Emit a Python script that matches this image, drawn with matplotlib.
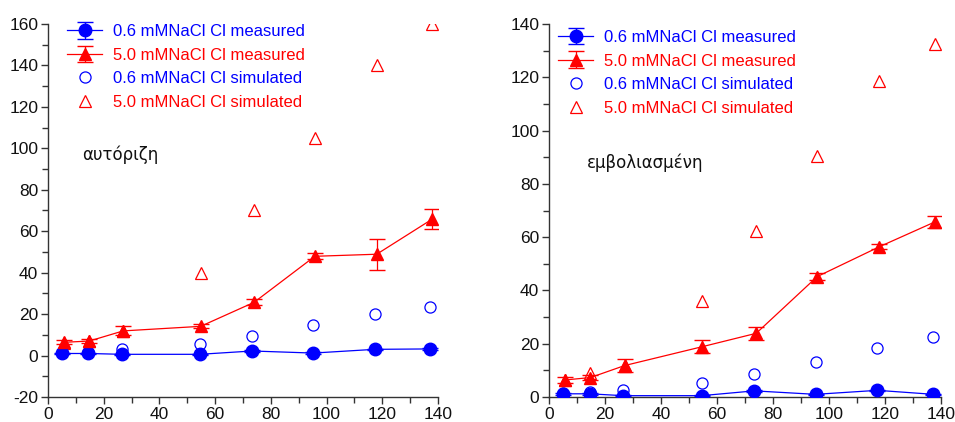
import matplotlib
matplotlib.use("Agg")
import matplotlib.pyplot as plt
from matplotlib.ticker import MultipleLocator

plt.rcParams['font.family'] = ['Liberation Sans', 'DejaVu Sans']
plt.rcParams['axes.unicode_minus'] = False

# sampling positions
x_low = [5, 14.5, 26.5, 54.5, 73.3, 95.2, 117.3, 137.3]
x_high = [5.8, 14.8, 27, 54.8, 74, 95.8, 118, 138]

# left panel: αυτόριζη
left_low_meas = [1.0, 1.0, 0.6, 0.6, 2.2, 1.2, 3.0, 3.2]
left_low_err = [0.3, 0.3, 0.3, 0.3, 0.3, 0.3, 0.3, 0.3]
left_high_meas = [6.4, 7.0, 11.9, 14.1, 25.7, 47.9, 48.9, 65.9]
left_high_err = [1.0, 1.0, 2.2, 1.0, 1.5, 1.5, 7.5, 4.7]
left_low_sim = [1.2, 1.5, 3.0, 5.6, 9.6, 14.7, 20.1, 23.6]
left_high_sim = [6.0, 7.0, 12.0, 40, 70, 105, 140, 160]

# right panel: εμβολιασμένη
right_low_meas = [1.2, 1.2, 0.5, 0.5, 2.3, 1.0, 2.5, 1.0]
right_low_err = [0.3, 0.3, 0.3, 0.3, 0.3, 0.3, 0.3, 0.3]
right_high_meas = [6.4, 7.3, 11.8, 18.9, 23.9, 45.2, 56.4, 65.8]
right_high_err = [1.0, 1.0, 2.3, 2.4, 2.5, 1.2, 1.0, 2.3]
right_low_sim = [1.4, 1.9, 2.6, 5.1, 8.6, 13.3, 18.5, 22.6]
right_high_sim = [6.5, 8.9, 12.0, 36, 62.3, 90.5, 118.6, 132.6]

labels = ['0.6 mMNaCl Cl measured', '5.0 mMNaCl Cl measured',
          '0.6 mMNaCl Cl simulated', '5.0 mMNaCl Cl simulated']

blue = '#0000ff'
red = '#ff0000'

fig = plt.figure(figsize=(9.55, 4.22), dpi=100)
ax1 = fig.add_axes([48/955, 25/422, 390/955, 373/422])
ax2 = fig.add_axes([549/955, 25/422, 392/955, 373/422])


def draw_panel(ax, low_m, low_e, high_m, high_e, low_s, high_s, ylim, title, tpos, legpos):
    ax.errorbar(x_low, low_m, yerr=low_e, color=blue, marker='o', ms=9, lw=0.9,
                elinewidth=0.9, capsize=6, label=labels[0], zorder=4)
    ax.errorbar(x_high, high_m, yerr=high_e, color=red, marker='^', ms=9, lw=0.9,
                elinewidth=0.9, capsize=6, label=labels[1], zorder=4)
    ax.plot(x_low, low_s, ls='none', marker='o', ms=8, mfc='none', mec=blue,
            mew=0.9, label=labels[2], zorder=3)
    ax.plot(x_high, high_s, ls='none', marker='^', ms=8, mfc='none', mec=red,
            mew=0.9, label=labels[3], zorder=3)

    ax.set_xlim(0, 140)
    ax.set_ylim(*ylim)
    ax.xaxis.set_major_locator(MultipleLocator(20))
    ax.xaxis.set_minor_locator(MultipleLocator(10))
    ax.yaxis.set_major_locator(MultipleLocator(20))
    ax.yaxis.set_minor_locator(MultipleLocator(10))
    for s in ['top', 'right']:
        ax.spines[s].set_visible(False)
    for s in ['left', 'bottom']:
        ax.spines[s].set_color('#333333')
        ax.spines[s].set_linewidth(1.0)
    ax.tick_params(which='major', direction='out', length=5, width=1.0,
                   color='#333333', labelsize=12.5, pad=2)
    ax.tick_params(which='minor', direction='out', length=4, width=1.0, color='#333333')
    for lab in ax.get_xticklabels() + ax.get_yticklabels():
        lab.set_color('#111111')
    ax.patch.set_visible(False)

    ax.text(tpos[0], tpos[1], title, fontsize=12, color='#111111', va='center',
            family=['DejaVu Sans'])

    # measured entries first, then simulated
    handles, labs = ax.get_legend_handles_labels()
    order = [labs.index(l) for l in labels]
    leg = ax.legend([handles[i] for i in order], [labs[i] for i in order],
                    loc='upper left', bbox_to_anchor=legpos, frameon=False,
                    fontsize=12, handlelength=2.1, handletextpad=0.65,
                    labelspacing=0.52, borderaxespad=0, borderpad=0)
    for txt, c in zip(leg.get_texts(), [blue, red, blue, red]):
        txt.set_color(c)


draw_panel(ax1, left_low_meas, left_low_err, left_high_meas, left_high_err,
           left_low_sim, left_high_sim, (-20, 160), 'αυτόριζη', (12.2, 97),
           (0.049, 1.0))
draw_panel(ax2, right_low_meas, right_low_err, right_high_meas, right_high_err,
           right_low_sim, right_high_sim, (0, 140), 'εμβολιασμένη', (13.6, 88),
           (0.023, 0.984))

fig.savefig('out.png', dpi=100)
